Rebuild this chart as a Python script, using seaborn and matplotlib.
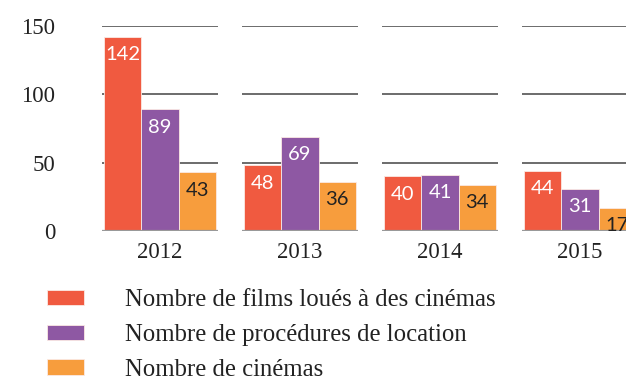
import matplotlib
matplotlib.use("Agg")
import matplotlib.pyplot as plt
import seaborn as sns
import pandas as pd

years = ["2012", "2013", "2014", "2015"]
series = [
    "Nombre de films loués à des cinémas",
    "Nombre de procédures de location",
    "Nombre de cinémas",
]
films = [142, 48, 40, 44]
procedures = [89, 69, 41, 31]
cinemas = [43, 36, 34, 17]
yticks = [0, 50, 100, 150]

colors = ["#F05A40", "#8E58A3", "#F79D3D"]
label_colors = ["white", "white", "#222222"]

rows = []
for name, vals in zip(series, [films, procedures, cinemas]):
    for y, v in zip(years, vals):
        rows.append({"year": y, "series": name, "value": v})
df = pd.DataFrame(rows)

sns.set_theme(style="white")
plt.rcParams["font.family"] = ["Liberation Serif", "DejaVu Serif"]

fig = plt.figure(figsize=(6.26, 3.81), dpi=100)
ax = fig.add_axes([62 / 626, 1 - 231 / 381, 1 - 62 / 626, (231 - 26) / 381])

sns.barplot(
    data=df, x="year", y="value", hue="series",
    order=years, hue_order=series, palette=colors,
    saturation=1, width=0.8, gap=0, errorbar=None,
    edgecolor="#fbe9e4", linewidth=0.6, ax=ax, zorder=2,
)

# value labels inside the top of each bar
for cont, tc in zip(ax.containers, label_colors):
    for bar in cont:
        h = bar.get_height()
        ax.annotate(
            f"{h:.0f}", xy=(bar.get_x() + bar.get_width() / 2, h),
            xytext=(0, -18), textcoords="offset pixels",
            ha="center", va="center", color=tc,
            fontsize=14.5, family=["Lato", "DejaVu Sans"], zorder=4,
        )

# gridlines broken between the year groups
half = 0.415
for i in range(len(years)):
    ax.hlines(yticks[1:], i - half, i + half, color="#444444", lw=1.1, zorder=1)
    ax.hlines(0, i - half, i + half, color="#999999", lw=1.6, zorder=3)

ax.set_xlim(-0.7, (626 - 160) / 140)
ax.set_ylim(0, 150)
ax.set_yticks(yticks)
ax.set_yticklabels([str(t) for t in yticks])
ax.set_xlabel("")
ax.set_ylabel("")
for s in ax.spines.values():
    s.set_visible(False)
ax.tick_params(axis="both", length=0, labelsize=16.5, colors="#222222")
ax.tick_params(axis="y", pad=5)
ax.tick_params(axis="x", pad=8)
ax.grid(False)

handles, labels = ax.get_legend_handles_labels()
ax.legend_.remove()
fig.legend(
    handles, labels, loc="upper left", bbox_to_anchor=(47 / 626, 1 - 289 / 381),
    frameon=False, fontsize=17.8, handlelength=1.5, handleheight=0.57,
    handletextpad=1.66, labelspacing=0.52, borderpad=0, borderaxespad=0,
    labelcolor="#222222",
)

fig.savefig("out.png", dpi=100)
